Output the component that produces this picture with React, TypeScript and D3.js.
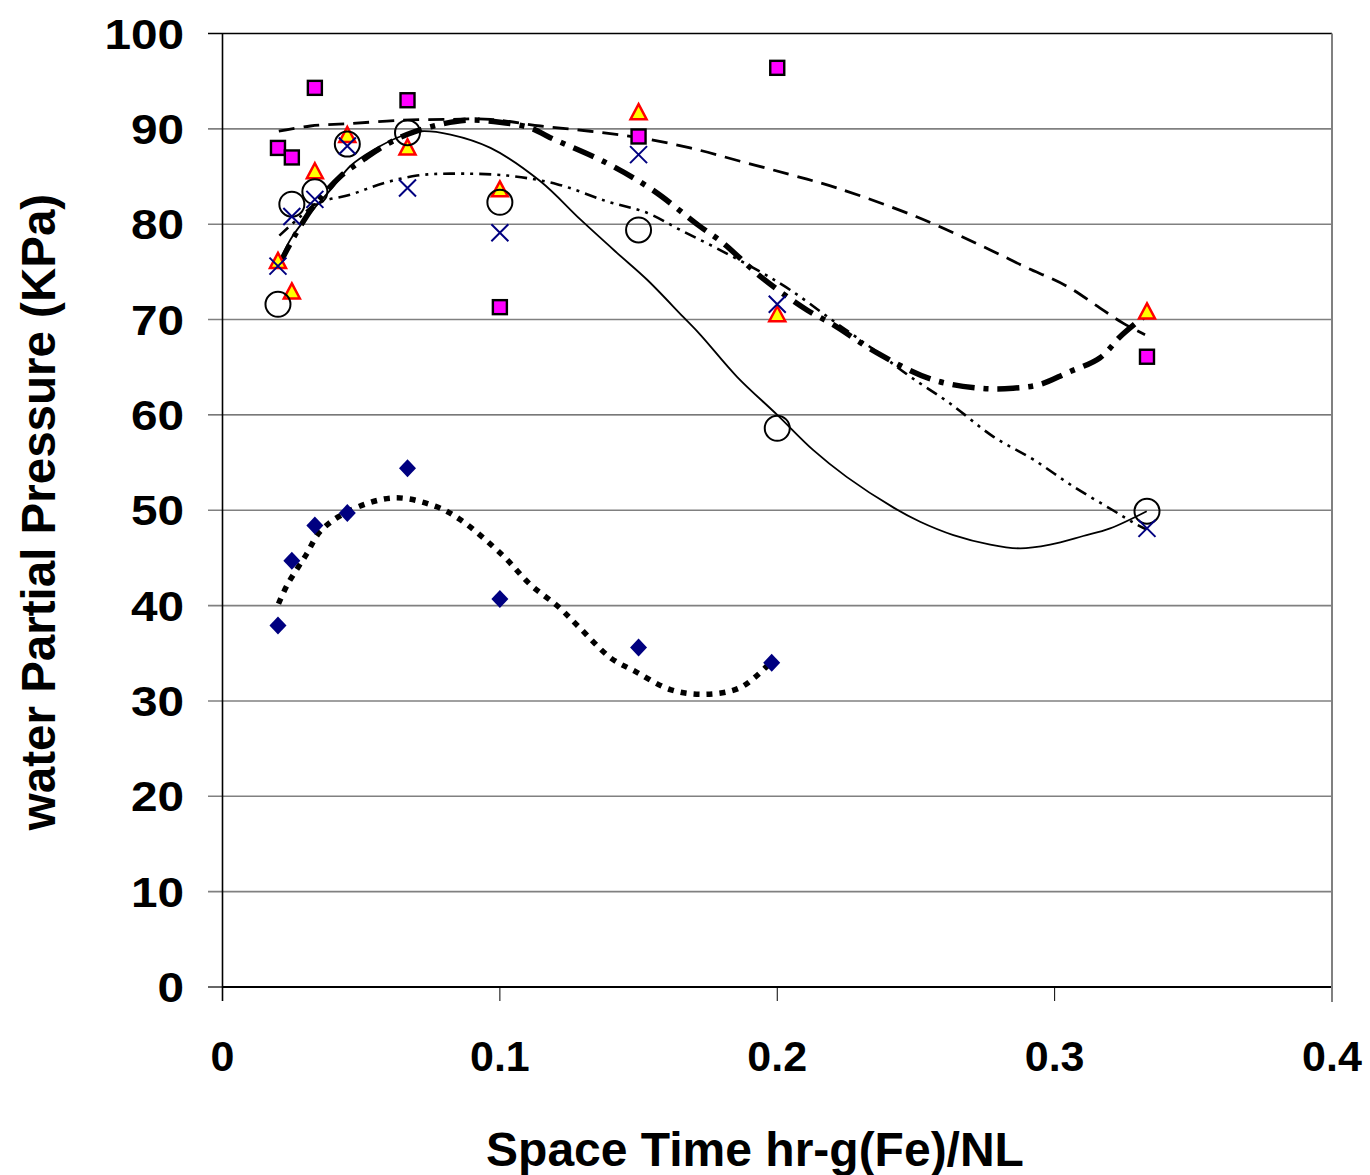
import React from "react";
import * as d3 from "d3";

const W = 1370;
const H = 1175;

// ---- data ----
const yTicks = [0, 10, 20, 30, 40, 50, 60, 70, 80, 90, 100];
const xTicks = [0, 0.1, 0.2, 0.3, 0.4];
const xTickLabels = ["0", "0.1", "0.2", "0.3", "0.4"];

const diamondX = [0.02, 0.025, 0.0333, 0.045, 0.0667, 0.1, 0.15, 0.198];
const diamondY = [37.9, 44.7, 48.4, 49.7, 54.4, 40.7, 35.6, 34.0];

const squareX = [0.02, 0.025, 0.0333, 0.0667, 0.1, 0.15, 0.2, 0.3333];
const squareY = [88.0, 87.0, 94.3, 93.0, 71.3, 89.2, 96.4, 66.1];

const triangleX = [0.02, 0.025, 0.0333, 0.045, 0.0667, 0.1, 0.15, 0.2, 0.3333];
const triangleY = [76.1, 72.9, 85.5, 89.3, 88.0, 83.6, 91.7, 70.5, 70.8];

const circleX = [0.02, 0.025, 0.0333, 0.045, 0.0667, 0.1, 0.15, 0.2, 0.3333];
const circleY = [71.6, 82.1, 83.4, 88.4, 89.6, 82.3, 79.4, 58.6, 49.9];

const crossX = [0.02, 0.025, 0.0333, 0.045, 0.0667, 0.1, 0.15, 0.2, 0.3333];
const crossY = [75.6, 80.8, 82.6, 88.2, 83.8, 79.1, 87.3, 71.6, 48.1];

// trend lines
const trendDiamond: [number, number][] = [
  [0.0202, 40.2], [0.0234, 42.2], [0.0303, 45.4], [0.0353, 47.8], [0.0454, 49.9],
  [0.0618, 51.3], [0.0769, 50.4], [0.0858, 49.0], [0.1009, 45.3], [0.111, 42.2],
  [0.121, 39.9], [0.1287, 37.7], [0.14, 34.5], [0.1488, 33.1], [0.1614, 31.2],
  [0.174, 30.7], [0.1867, 31.4], [0.1968, 33.8],
];
const trendCircle: [number, number][] = [
  [0.0203, 75.8], [0.0245, 78.4], [0.0317, 81.2], [0.0401, 84.0], [0.0461, 86.1],
  [0.0545, 87.8], [0.0641, 89.2], [0.0714, 89.75], [0.0822, 89.4], [0.0966, 88.0],
  [0.1146, 84.5], [0.129, 80.5], [0.1422, 77.0], [0.153, 74.2], [0.166, 70.3],
  [0.1723, 68.4], [0.1855, 64.0], [0.2, 60.0], [0.213, 56.3], [0.225, 53.5],
  [0.2418, 50.3], [0.2515, 48.8], [0.2635, 47.4], [0.2768, 46.4], [0.2876, 46.0],
  [0.2984, 46.4], [0.3103, 47.3], [0.32, 48.1], [0.3332, 49.9],
];
const trendTriangle: [number, number][] = [
  [0.0205, 75.8], [0.0245, 78.0], [0.0281, 79.8], [0.0329, 81.9], [0.0425, 85.0],
  [0.0509, 86.8], [0.0581, 88.2], [0.0665, 89.4], [0.0762, 90.3], [0.088, 90.9],
  [0.1, 90.7], [0.111, 90.1], [0.118, 89.1], [0.1386, 86.4], [0.155, 83.6],
  [0.172, 79.8], [0.1806, 78.0], [0.194, 74.5], [0.2107, 71.0], [0.22, 69.5],
  [0.236, 66.5], [0.256, 63.7], [0.273, 62.8], [0.285, 62.8], [0.2948, 63.2],
  [0.3044, 64.4], [0.3164, 66.0], [0.3236, 68.2], [0.333, 70.5],
];
const trendCross: [number, number][] = [
  [0.0205, 78.8], [0.0281, 80.8], [0.0341, 82.2], [0.0461, 83.1], [0.058, 84.3],
  [0.0701, 85.1], [0.0822, 85.3], [0.1026, 85.1], [0.1206, 84.2], [0.1386, 82.4],
  [0.153, 81.2], [0.165, 79.4], [0.178, 77.5], [0.1927, 75.2], [0.2047, 73.1],
  [0.22, 69.9], [0.236, 66.6], [0.248, 64.0], [0.2623, 61.2], [0.278, 57.7],
  [0.2924, 55.3], [0.3067, 52.5], [0.321, 50.0], [0.3284, 48.7], [0.333, 48.0],
];
const trendSquare: [number, number][] = [
  [0.0203, 89.75], [0.0317, 90.3], [0.0461, 90.55], [0.0641, 90.9], [0.0822, 91.0],
  [0.0966, 91.0], [0.1146, 90.3], [0.1326, 89.75], [0.1506, 89.05], [0.1686, 88.0],
  [0.1867, 86.6], [0.2047, 85.2], [0.2215, 83.8], [0.25, 80.8], [0.2768, 77.3],
  [0.2888, 75.6], [0.3044, 73.5], [0.3164, 71.2], [0.3248, 69.6], [0.3326, 68.4],
];

const FONT = "'Liberation Sans', Arial, sans-serif";

export default function App() {
  const x = d3.scaleLinear().domain([0, 0.4]).range([222.5, 1332]);
  const y = d3.scaleLinear().domain([0, 100]).range([987, 33.5]);
  const line = d3
    .line<[number, number]>()
    .x((d) => x(d[0]))
    .y((d) => y(d[1]))
    .curve(d3.curveCatmullRom.alpha(0.5));

  const zip = (xs: number[], ys: number[]) => xs.map((v, i) => [x(v), y(ys[i])]);

  return (
    <svg
      width={W}
      height={H}
      style={{ position: "absolute", left: 0, top: 0, background: "#fff" }}
      fontFamily={FONT}
    >
      <rect x={0} y={0} width={W} height={H} fill="#fff" />
      {/* gridlines */}
      {yTicks.map((t) => (
        <line
          key={"g" + t}
          x1={208}
          x2={1332}
          y1={y(t)}
          y2={y(t)}
          stroke={t === 100 || t === 0 ? "#000" : t === 60 ? "#222" : "#808080"}
          strokeWidth={t === 0 ? 2 : t === 60 ? 1 : 1.6}
        />
      ))}
      <line x1={208} x2={222} y1={y(0)} y2={y(0)} stroke="#808080" strokeWidth={1.6} />
      {/* right border */}
      <line x1={1332} x2={1332} y1={y(100)} y2={1002} stroke="#808080" strokeWidth={2} />
      {/* left axis */}
      <line x1={222.5} x2={222.5} y1={y(100)} y2={1001} stroke="#000" strokeWidth={1.6} />
      {/* x ticks */}
      {xTicks.slice(1, 4).map((t) => (
        <line key={"xt" + t} x1={x(t)} x2={x(t)} y1={y(0)} y2={1001} stroke="#000" strokeWidth={1} />
      ))}

      {/* y tick labels */}
      {yTicks.map((t) => (
        <text
          key={"yl" + t}
          transform={`translate(184,${y(t) + 15}) scale(1.11,1)`}
          textAnchor="end"
          fontSize={43}
          fontWeight="bold"
          fill="#000"
        >
          {t}
        </text>
      ))}
      {/* x tick labels */}
      {xTicks.map((t, i) => (
        <text
          key={"xl" + t}
          x={x(t)}
          y={1071}
          textAnchor="middle"
          fontSize={43}
          fontWeight="bold"
          fill="#000"
        >
          {xTickLabels[i]}
        </text>
      ))}
      {/* axis titles */}
      <text x={755} y={1166} textAnchor="middle" fontSize={48} fontWeight="bold" fill="#000">
        Space Time hr-g(Fe)/NL
      </text>
      <text
        transform="translate(55,512) rotate(-90)"
        textAnchor="middle"
        fontSize={47.5}
        fontWeight="bold"
        fill="#000"
      >
        water Partial Pressure (KPa)
      </text>

      {/* trend lines */}
      <path d={line(trendDiamond) || ""} fill="none" stroke="#000" strokeWidth={5.5} strokeDasharray="6 7" />
      <path d={line(trendCircle) || ""} fill="none" stroke="#000" strokeWidth={1.8} />
      <path d={line(trendTriangle) || ""} fill="none" stroke="#000" strokeWidth={5.5} strokeDasharray="22 9 5 9" />
      <path d={line(trendCross) || ""} fill="none" stroke="#000" strokeWidth={2.6} strokeDasharray="12 6 3 6 3 6" />
      <path d={line(trendSquare) || ""} fill="none" stroke="#000" strokeWidth={2.8} strokeDasharray="16 9" />

      {/* diamonds */}
      {zip(diamondX, diamondY).map(([px, py], i) => (
        <path
          key={"d" + i}
          d={`M${px},${py - 9}L${px + 8.5},${py}L${px},${py + 9}L${px - 8.5},${py}Z`}
          fill="#000080"
        />
      ))}
      {/* squares */}
      {zip(squareX, squareY).map(([px, py], i) => (
        <rect
          key={"s" + i}
          x={px - 7}
          y={py - 7}
          width={14}
          height={14}
          fill="#ff00ff"
          stroke="#000"
          strokeWidth={2.4}
        />
      ))}
      {/* triangles */}
      {zip(triangleX, triangleY).map(([px, py], i) => (
        <path
          key={"t" + i}
          d={`M${px},${py - 8.5}L${px + 8},${py + 6.5}L${px - 8},${py + 6.5}Z`}
          fill="#ffff00"
          stroke="#ff0000"
          strokeWidth={2.5}
        />
      ))}
      {/* circles */}
      {zip(circleX, circleY).map(([px, py], i) => (
        <circle key={"c" + i} cx={px} cy={py} r={12.5} fill="none" stroke="#000" strokeWidth={2} />
      ))}
      {/* crosses */}
      {zip(crossX, crossY).map(([px, py], i) => (
        <path
          key={"x" + i}
          d={`M${px - 8.5},${py - 8.5}L${px + 8.5},${py + 8.5}M${px + 8.5},${py - 8.5}L${px - 8.5},${py + 8.5}`}
          stroke="#000080"
          strokeWidth={2}
          fill="none"
        />
      ))}
    </svg>
  );
}
